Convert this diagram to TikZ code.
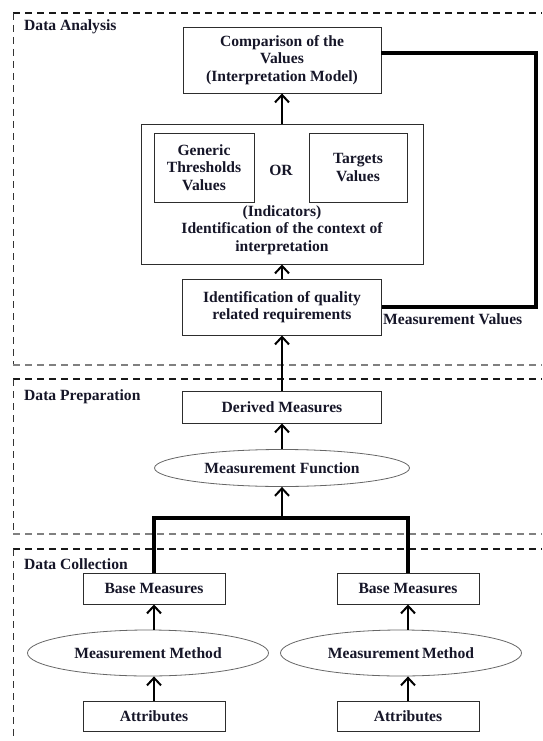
\documentclass[tikz,border=0pt]{standalone}
\usepackage{fontspec}
\setmainfont{Liberation Serif}
\usetikzlibrary{arrows.meta,shapes.geometric,calc}
\definecolor{ink}{RGB}{22,22,40}
\definecolor{frame}{RGB}{45,45,45}
\begin{document}
\begin{tikzpicture}[x=1pt,y=-1pt,
  every node/.style={font=\fontsize{15.6}{17.5}\selectfont\bfseries, text=ink, inner sep=0pt, align=center},
  box/.style={draw=frame, line width=0.9pt, rectangle},
  oval/.style={draw=black!60, line width=0.8pt, ellipse},
  flow/.style={line width=2pt, -{Straight Barb[length=7.5pt,width=14pt]}},
  bus/.style={line width=3.5pt},
  zonetop/.style={dash pattern=on 7pt off 5pt, line width=1.5pt, draw=black!90},
  zonebot/.style={dash pattern=on 7pt off 5pt, line width=1.1pt, draw=black!50},
  zoneside/.style={dash pattern=on 7pt off 5pt, line width=0.9pt, draw=black!80},
  zonelabel/.style={anchor=west}
]
\useasboundingbox (0,0) rectangle (542,741);

% ---- dashed zones ----
\draw[zonetop] (13,13) -- (542,13);
\draw[zoneside] (13,13) -- (13,365);
\draw[zonebot] (13,365) -- (542,365);
\draw[zonetop] (13,379) -- (542,379);
\draw[zoneside] (13,379) -- (13,534);
\draw[zonebot] (13,534) -- (542,534);
\draw[zonetop] (13,549) -- (542,549);
\draw[zoneside] (13,549) -- (13,741);

\node[zonelabel] (lblA) at (24,27) {Data Analysis};
\node[zonelabel] (lblP) at (24,397) {Data Preparation};
\node[zonelabel] (lblC) at (24,564) {Data Collection};

% ---- data analysis ----
\node[box, minimum width=198pt, minimum height=66pt] (comp) at (282,60)
  {Comparison of the\\Values\\(Interpretation Model)};
\node[box, minimum width=282pt, minimum height=140pt] (ctx) at (282,194) {};
\node[box, minimum width=100pt, minimum height=69pt] (gen) at (204,167.5)
  {Generic\\Thresholds\\Values};
\node[box, minimum width=98pt, minimum height=69pt] (tgt) at (358,167.5)
  {Targets\\Values};
\node (or) at (281,170) {OR};
\node (ctxtext) at (282,230)
  {(Indicators)\\Identification of the context of\\interpretation};
\node[box, minimum width=199pt, minimum height=56pt] (idq) at (282,307)
  {Identification of quality\\related requirements};
\node[anchor=west] (mv) at (383,319) {Measurement Values};

\coordinate (mvtop) at (536,53);
\draw[bus] (idq.east) -| (mvtop) -- (comp.east |- mvtop);

\draw[flow] (ctx.north) -- (comp.south);
\draw[flow] (idq.north) -- (ctx.south);

% ---- data preparation ----
\node[box, minimum width=199pt, minimum height=32pt] (der) at (282,407) {Derived Measures};
\node[oval, minimum width=255pt, minimum height=37pt] (mf) at (282,468) {Measurement Function};
\draw[flow] (der.north) -- (idq.south);
\draw[flow] (mf.north) -- (der.south);

% ---- data collection ----
\node[box, minimum width=142pt, minimum height=31pt] (bm1) at (154,588.5) {Base Measures};
\node[box, minimum width=142pt, minimum height=31pt] (bm2) at (408,588.5) {Base Measures};
\node[oval, minimum width=241pt, minimum height=46pt] (mm1) at (148,653) {Measurement Method};
\node[oval, minimum width=241pt, minimum height=46pt] (mm2) at (401,653) {Measurement\,Method};
\node[box, minimum width=142pt, minimum height=30pt] (at1) at (154,716) {Attributes};
\node[box, minimum width=142pt, minimum height=30pt] (at2) at (408,716) {Attributes};

\coordinate (junction) at (282,518);
\draw[bus] (bm1.north) |- (junction) -| (bm2.north);
\draw[flow] (junction) -- (mf.south);

\draw[flow] (bm1.south |- mm1.north) -- (bm1.south);
\draw[flow] (bm2.south |- mm2.north) -- (bm2.south);
\draw[flow] (at1.north) -- (at1.north |- mm1.south);
\draw[flow] (at2.north) -- (at2.north |- mm2.south);
\end{tikzpicture}
\end{document}
